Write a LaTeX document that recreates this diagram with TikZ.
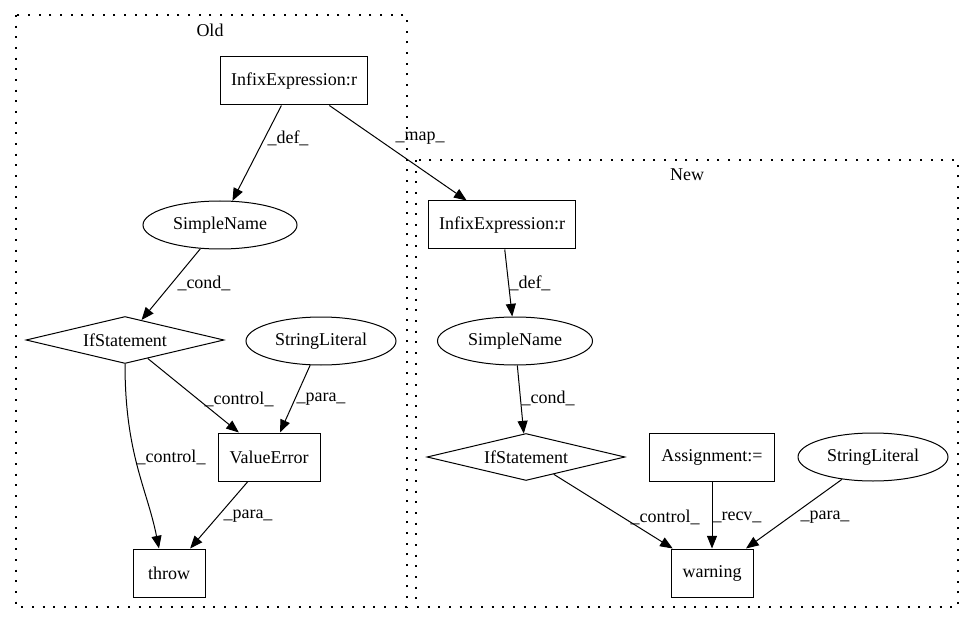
\documentclass[tikz,border=0pt]{standalone}
\usepackage{fontspec}
\setmainfont{Liberation Serif}
\usepackage{tikz}
\usetikzlibrary{arrows.meta,shapes.geometric}

\begin{document}
\begin{tikzpicture}[x=0.75pt, y=-0.75pt, every node/.style={font=\fontsize{13.5}{16}\selectfont},
    box/.style={draw, line width=0.75pt, rectangle, inner sep=0pt, minimum height=36pt},
    oval/.style={draw, line width=0.75pt, ellipse, inner sep=0pt, minimum height=36pt},
    cond/.style={draw, line width=0.75pt, diamond, shape aspect=4.2, inner sep=0pt, minimum width=148.5pt, minimum height=35.25pt},
    edge/.style={draw, line width=0.75pt, -{Triangle[length=9.5pt,width=7.5pt]}},
    lbl/.style={inner sep=0pt},
    cluster/.style={draw, line width=0.8pt, dash pattern=on 1.5pt off 6.5pt}]
      \useasboundingbox (0,0) rectangle (975,624);
      \draw[cluster] (16,15) rectangle (407,607);
      \draw[cluster] (416,160) rectangle (958,607);
      \node (oldname) at (210,30) {Old};
      \node (newname) at (687,175) {New};
      \node[box, minimum width=110.25pt] (iold) at (294,81) {InfixExpression:r};
      \node[oval, minimum width=115.5pt] (sold) at (220,225) {SimpleName};
      \node[cond] (ifold) at (125,340) {IfStatement};
      \node[oval, minimum width=112.5pt] (strold) at (321,341) {StringLiteral};
      \node[box, minimum width=76.5pt] (verr) at (269,457) {ValueError};
      \node[box, minimum width=54pt] (throw) at (169,573) {throw};
      \node[box, minimum width=110.25pt] (inew) at (502,225) {InfixExpression:r};
      \node[oval, minimum width=116.25pt] (snew) at (515,341) {SimpleName};
      \node[cond] (ifnew) at (526,457) {IfStatement};
      \node[box, minimum width=93.75pt] (asgn) at (712,457) {Assignment:=};
      \node[oval, minimum width=112.5pt] (strnew) at (873,457) {StringLiteral};
      \node[box, minimum width=61.5pt] (warn) at (712,573) {warning};
      \foreach \a/\b/\t/\x/\y in {iold/sold/def/288/138, iold/inew/map/420/138, sold/ifold/cond/204/283,
          ifold/verr/control/239/399, strold/verr/para/321/399, verr/throw/para/248/516,
          inew/snew/def/530/283, snew/ifnew/cond/548/398, ifnew/warn/control/665/517,
          asgn/warn/recv/737/517, strnew/warn/para/825/517}
      {
        \draw[edge] (\a) -- (\b);
        \node[lbl] (l\a\b) at (\x,\y) {\_\t\_};
      }
      \draw[edge] (ifold.south) .. controls +(0,90) and +(-12,-60) .. ([xshift=-7.5pt]throw.north);
      \node[lbl] (lifoldthrow) at (171,457) {\_control\_};
\end{tikzpicture}
\end{document}
